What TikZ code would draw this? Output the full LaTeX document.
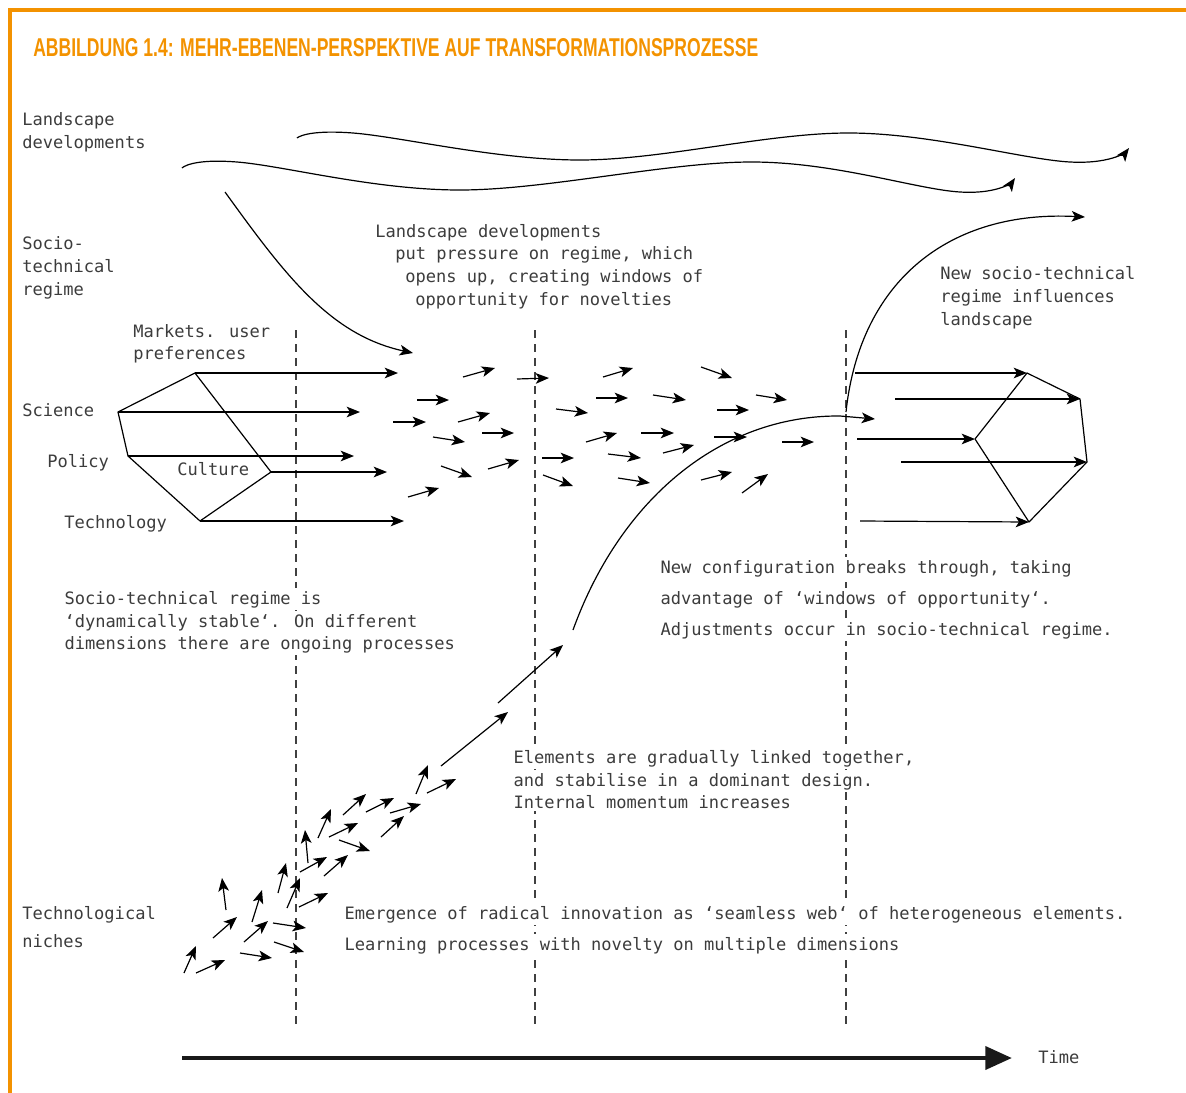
\documentclass[tikz,border=0pt]{standalone}
\usepackage{fontspec}
\usepackage{graphicx}
\usetikzlibrary{arrows.meta}
\newfontfamily\monof{DejaVu Sans Mono}
\newfontfamily\titlef{Liberation Sans Bold}
\definecolor{orangec}{HTML}{F39200}
\definecolor{txtc}{HTML}{3C3C3C}
\tikzset{
  lbl/.style={anchor=base west, inner sep=0pt, text=txtc, font=\monof\fontsize{12.8pt}{17.25pt}\selectfont},
  mask/.style={lbl, fill=white, inner xsep=1pt, inner ysep=2pt},
  arr/.style={line width=0.9pt, -{Stealth[length=10pt,width=8pt,inset=2.5pt]}},
  edge/.style={line width=0.9pt, line join=round},
  dashline/.style={line width=0.9pt, black!75, dash pattern=on 6pt off 4.5pt},
  curv/.style={line width=0.9pt},
}
\begin{document}
\begin{tikzpicture}[x=0.75pt,y=-0.75pt]
\useasboundingbox (0,0) rectangle (1186,1093);
% frame
\draw[orangec, line width=2.6pt] (10,1093) -- (10,10) -- (1186,10);
% title
\node[anchor=base west, inner sep=0pt, text=orangec] (title) at (33,56)
  {\resizebox{543.75pt}{13.5pt}{\titlef ABBILDUNG 1.4: MEHR-EBENEN-PERSPEKTIVE AUF TRANSFORMATIONSPROZESSE}};

% dashed time lines
\draw[dashline] (296,330) -- (296,1025);
\draw[dashline] (535,330) -- (535,1025);
\draw[dashline] (846,330) -- (846,1025);

% landscape waves
\draw[curv, arr] plot[smooth, tension=0.6] coordinates {(297,138) (353,133) (580,160) (850,133) (1070,162) (1129,148)};
\draw[curv, arr] plot[smooth, tension=0.6] coordinates {(182,168) (237,162) (460,190) (753,162) (960,192) (1015,178)};

% landscape pressure curve
\draw[curv, arr] (225,192) .. controls (285,275) and (330,335) .. (413,353);

% left regime pentagon
\coordinate (lt) at (195,373);
\coordinate (ll) at (118,412);
\coordinate (lp) at (128,456);
\coordinate (lb) at (200,521);
\coordinate (lr) at (271,472);
\draw[edge] (lt) -- (ll) -- (lp) -- (lb) -- (lr) -- cycle;
\coordinate (ltE) at (398,373);
\coordinate (llE) at (360,412);
\coordinate (lpE) at (354,456);
\coordinate (lrE) at (387,472);
\coordinate (lbE) at (404,521);
\draw[arr] (lt) -- (ltE);
\draw[arr] (ll) -- (llE);
\draw[arr] (lp) -- (lpE);
\draw[arr] (lr) -- (lrE);
\draw[arr] (lb) -- (lbE);

% scattered regime arrows
\foreach \xa/\ya/\xb/\yb in {463/377/495/368, 517/379/549/378, 603/377/633/368, 701/367/732/378,
  417/400/449/400, 393/422/426/422, 458/422/490/413, 433/437/465/442, 482/433/514/433,
  441/466/472/477, 488/469/519/460, 408/497/439/488,
  556/409/588/413, 596/398/628/398, 653/395/686/400, 756/395/787/400, 717/410/749/410,
  586/442/617/433, 641/433/674/433, 714/437/747/437, 782/442/814/442,
  542/458/574/458, 608/454/641/458, 663/453/694/445,
  543/475/573/486, 618/478/650/483, 701/480/732/472, 742/493/768/474}
  \draw[arr] (\xa,\ya) -- (\xb,\yb);

% niche arrows
\foreach \xa/\ya/\xb/\yb in {184/973/196/946, 196/973/225/960, 240/953/272/958, 274/942/304/952,
  244/942/268/921, 273/923/306/928, 213/938/237/917, 226/910/222/878, 252/922/262/890,
  278/893/286/863, 287/908/300/878, 299/907/328/893, 300/872/327/857, 324/876/348/855,
  308/863/305/830, 318/838/331/809, 329/837/358/823, 339/840/370/851, 343/815/366/794,
  366/812/394/798, 390/813/421/804, 381/837/404/816, 416/794/428/765, 427/793/456/779,
  441/766/508/712, 498/703/563/645}
  \draw[arr] (\xa,\ya) -- (\xb,\yb);

% breakthrough S-curve
\draw[curv, arr] (573,630) .. controls (620,500) and (720,415) .. (840,416) -- (875,419);
% new regime influences landscape
\draw[curv, arr] (846,412) .. controls (860,280) and (950,210) .. (1085,217);

% right regime pentagon
\coordinate (rt) at (1027,373);
\coordinate (rrt) at (1080,399);
\coordinate (rrb) at (1087,462);
\coordinate (rb) at (1029,522);
\coordinate (rl) at (975,439);
\draw[edge] (rl) -- (rt) -- (rrt) -- (rrb) -- (rb) -- cycle;
\coordinate (rtS) at (855,373);
\coordinate (rrtS) at (895,399);
\coordinate (rlS) at (857,439);
\coordinate (rrbS) at (901,462);
\coordinate (rbS) at (860,521);
\draw[arr] (rtS) -- (rt);
\draw[arr] (rrtS) -- (rrt);
\draw[arr] (rlS) -- (rl);
\draw[arr] (rrbS) -- (rrb);
\draw[arr] (rbS) -- (rb);

% time axis
\coordinate (t0) at (182,1058);
\coordinate (t1) at (1012,1058);
\draw[line width=3.6pt, black!90, -{Triangle[length=20pt,width=17pt]}] (t0) -- (t1);
\node[lbl] (time) at (1038,1063) {Time};

% level labels
\node[lbl] (land1) at (22,125) {Landscape};
\node[lbl] (land2) at (22,148) {developments};
\node[lbl] (reg1) at (22,249) {Socio-};
\node[lbl] (reg2) at (22,272) {technical};
\node[lbl] (reg3) at (22,295) {regime};
\node[lbl] (nich1) at (22,919) {Technological};
\node[lbl] (nich2) at (22,947) {niches};

% pentagon labels
\node[lbl] (mk1) at (133,337) {Markets. user};
\node[lbl] (mk2) at (133,359) {preferences};
\node[lbl] (sci) at (22,416) {Science};
\node[lbl] (pol) at (47,467) {Policy};
\node[lbl] (cul) at (177,475) {Culture};
\node[lbl] (tec) at (64,528) {Technology};

% annotation texts
\node[lbl] (lp1) at (375,237) {Landscape developments};
\node[lbl] (lp2) at (395,259) {put pressure on regime, which};
\node[lbl] (lp3) at (405,282) {opens up, creating windows of};
\node[lbl] (lp4) at (415,305) {opportunity for novelties};

\node[lbl] (nr1) at (940,279) {New socio-technical};
\node[lbl] (nr2) at (940,302) {regime influences};
\node[lbl] (nr3) at (940,325) {landscape};

\node[mask] (st1) at (63,604) {Socio-technical regime is};
\node[mask] (st2) at (63,627) {‘dynamically stable‘. On different};
\node[mask] (st3) at (63,649) {dimensions there are ongoing processes};

\node[mask] (nc1) at (659,573) {New configuration breaks through, taking};
\node[mask] (nc2) at (659,604) {advantage of ‘windows of opportunity‘.};
\node[mask] (nc3) at (659,635) {Adjustments occur in socio-technical regime.};

\node[mask] (el1) at (512,763) {Elements are gradually linked together,};
\node[mask] (el2) at (512,786) {and stabilise in a dominant design.};
\node[mask] (el3) at (512,808) {Internal momentum increases};

\node[mask] (em1) at (343,919) {Emergence of radical innovation as ‘seamless web‘ of heterogeneous elements.};
\node[mask] (em2) at (343,950) {Learning processes with novelty on multiple dimensions};
\end{tikzpicture}
\end{document}
